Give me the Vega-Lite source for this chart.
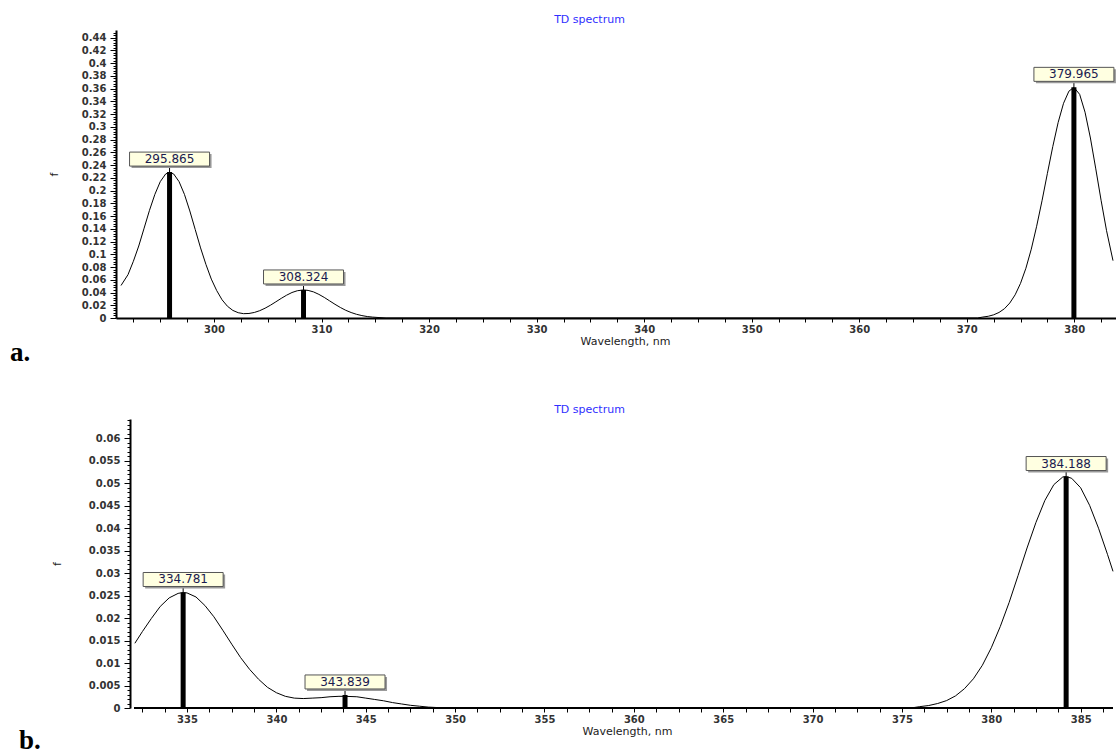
{
  "$schema": "https://vega.github.io/schema/vega-lite/v6.json",
  "padding": {"left": 10, "top": 13, "right": 0, "bottom": 0},
  "background": "white",
  "spacing": 37,
  "columns": 1,
  "config": {
    "view": {"stroke": null},
    "font": "DejaVu Sans",
    "axis": {"domainColor": "black", "domainWidth": 2, "tickColor": "black", "grid": false, "labelFont": "DejaVu Sans", "labelFontSize": 10, "labelFontWeight": "bold", "labelColor": "#333333", "titleFont": "DejaVu Sans", "titleFontSize": 11, "titleFontWeight": "normal", "titleColor": "#222222", "labelOverlap": false, "labelFlush": false, "labelBound": false},
    "title": {"font": "Liberation Serif", "fontSize": 27, "fontWeight": "bold", "color": "black", "orient": "bottom", "anchor": "start", "offset": 0}
  },
  "datasets": {
    "curveA": [
      {"wl": 291.35, "f": 0.051}, {"wl": 292, "f": 0.068}, {"wl": 292.5, "f": 0.089}, {"wl": 293, "f": 0.113}, {"wl": 293.5, "f": 0.141}, {"wl": 294, "f": 0.169}, {"wl": 294.5, "f": 0.194}, {"wl": 295, "f": 0.214}, {"wl": 295.5, "f": 0.226}, {"wl": 295.87, "f": 0.229}, {"wl": 296.25, "f": 0.226}, {"wl": 296.75, "f": 0.214}, {"wl": 297.25, "f": 0.194}, {"wl": 297.75, "f": 0.168}, {"wl": 298.25, "f": 0.139}, {"wl": 298.75, "f": 0.11}, {"wl": 299.25, "f": 0.084}, {"wl": 299.75, "f": 0.061}, {"wl": 300.25, "f": 0.043}, {"wl": 300.75, "f": 0.0285}, {"wl": 301.25, "f": 0.0184}, {"wl": 301.75, "f": 0.0119}, {"wl": 302.25, "f": 0.0083}, {"wl": 302.75, "f": 0.0068}, {"wl": 303.25, "f": 0.0071}, {"wl": 303.75, "f": 0.0087}, {"wl": 304.25, "f": 0.0115}, {"wl": 304.75, "f": 0.0154}, {"wl": 305.25, "f": 0.0201}, {"wl": 305.75, "f": 0.0254}, {"wl": 306.25, "f": 0.0308}, {"wl": 306.75, "f": 0.0358}, {"wl": 307.25, "f": 0.04}, {"wl": 307.75, "f": 0.0428}, {"wl": 308.32, "f": 0.044}, {"wl": 308.75, "f": 0.0433}, {"wl": 309.25, "f": 0.041}, {"wl": 309.75, "f": 0.0371}, {"wl": 310.25, "f": 0.0323}, {"wl": 310.75, "f": 0.0269}, {"wl": 311.25, "f": 0.0215}, {"wl": 311.75, "f": 0.0165}, {"wl": 312.25, "f": 0.0121}, {"wl": 312.75, "f": 0.0086}, {"wl": 313.25, "f": 0.0058}, {"wl": 313.75, "f": 0.0038}, {"wl": 314.25, "f": 0.0023}, {"wl": 314.75, "f": 0.0014}, {"wl": 315.25, "f": 0.0008}, {"wl": 316, "f": 0},
      {"wl": 371, "f": 0}, {"wl": 371.5, "f": 0.0015}, {"wl": 372, "f": 0.0027}, {"wl": 372.5, "f": 0.005}, {"wl": 373, "f": 0.0087}, {"wl": 373.5, "f": 0.0145}, {"wl": 374, "f": 0.0235}, {"wl": 374.5, "f": 0.0364}, {"wl": 375, "f": 0.0544}, {"wl": 375.5, "f": 0.0781}, {"wl": 376, "f": 0.108}, {"wl": 376.5, "f": 0.144}, {"wl": 377, "f": 0.184}, {"wl": 377.5, "f": 0.227}, {"wl": 378, "f": 0.269}, {"wl": 378.5, "f": 0.307}, {"wl": 379, "f": 0.337}, {"wl": 379.5, "f": 0.356}, {"wl": 379.97, "f": 0.362}, {"wl": 380.5, "f": 0.351}, {"wl": 381, "f": 0.323}, {"wl": 381.5, "f": 0.2825}, {"wl": 382, "f": 0.234}, {"wl": 382.5, "f": 0.184}, {"wl": 383, "f": 0.137}, {"wl": 383.6, "f": 0.09}
    ],
    "sticksA": [
      {"wl": 295.865, "f": 0.229, "label": "295.865"},
      {"wl": 308.324, "f": 0.044, "label": "308.324"},
      {"wl": 379.965, "f": 0.362, "label": "379.965"}
    ],
    "curveB": [
      {"wl": 332.08, "f": 0.0144}, {"wl": 332.5, "f": 0.017}, {"wl": 333, "f": 0.0199}, {"wl": 333.5, "f": 0.0226}, {"wl": 334, "f": 0.0245}, {"wl": 334.5, "f": 0.0255}, {"wl": 334.78, "f": 0.0257}, {"wl": 335, "f": 0.0256}, {"wl": 335.5, "f": 0.0247}, {"wl": 336, "f": 0.0228}, {"wl": 336.5, "f": 0.0203}, {"wl": 337, "f": 0.0173}, {"wl": 337.5, "f": 0.0142}, {"wl": 338, "f": 0.0112}, {"wl": 338.5, "f": 0.0086}, {"wl": 339, "f": 0.0064}, {"wl": 339.5, "f": 0.0046}, {"wl": 340, "f": 0.0034}, {"wl": 340.5, "f": 0.0026}, {"wl": 341, "f": 0.0022}, {"wl": 341.5, "f": 0.0021}, {"wl": 342, "f": 0.0022}, {"wl": 342.5, "f": 0.0023}, {"wl": 343, "f": 0.0025}, {"wl": 343.5, "f": 0.0026}, {"wl": 343.84, "f": 0.0026}, {"wl": 344.5, "f": 0.0025}, {"wl": 345, "f": 0.0022}, {"wl": 345.5, "f": 0.0019}, {"wl": 346, "f": 0.0016}, {"wl": 346.5, "f": 0.0012}, {"wl": 347, "f": 0.0009}, {"wl": 347.5, "f": 0.0006}, {"wl": 348, "f": 0.0004}, {"wl": 348.5, "f": 0.0002}, {"wl": 349, "f": 0.0001}, {"wl": 350, "f": 0},
      {"wl": 375.5, "f": 0}, {"wl": 376, "f": 0.0003}, {"wl": 376.5, "f": 0.00055}, {"wl": 377, "f": 0.001}, {"wl": 377.5, "f": 0.00165}, {"wl": 378, "f": 0.0027}, {"wl": 378.5, "f": 0.0043}, {"wl": 379, "f": 0.0065}, {"wl": 379.5, "f": 0.0095}, {"wl": 380, "f": 0.0134}, {"wl": 380.5, "f": 0.0181}, {"wl": 381, "f": 0.0235}, {"wl": 381.5, "f": 0.0295}, {"wl": 382, "f": 0.0356}, {"wl": 382.5, "f": 0.0413}, {"wl": 383, "f": 0.0462}, {"wl": 383.5, "f": 0.0497}, {"wl": 384, "f": 0.0514}, {"wl": 384.19, "f": 0.0515}, {"wl": 384.5, "f": 0.0511}, {"wl": 385, "f": 0.049}, {"wl": 385.5, "f": 0.0451}, {"wl": 386, "f": 0.04}, {"wl": 386.5, "f": 0.0342}, {"wl": 386.81, "f": 0.0304}
    ],
    "sticksB": [
      {"wl": 334.781, "f": 0.0257, "label": "334.781"},
      {"wl": 343.839, "f": 0.0029, "label": "343.839"},
      {"wl": 384.188, "f": 0.0515, "label": "384.188"}
    ]
  },
  "concat": [
    {
      "title": {"text": "a.", "dx": -38, "dy": -10},
      "width": 1002,
      "height": 288,
      "resolve": {"axis": {"x": "independent"}},
      "encoding": {
        "x": {"field": "wl", "type": "quantitative", "scale": {"domain": [291.35, 383.6], "nice": false, "zero": false}, "axis": null},
        "y": {"field": "f", "type": "quantitative", "scale": {"domain": [0, 0.452], "nice": false},
          "axis": {"title": "f", "titlePadding": 12, "minExtent": 45, "maxExtent": 45, "labelPadding": 4,
            "tickSize": {"condition": {"test": "abs(datum.value*50 - round(datum.value*50)) < 0.000001", "value": 6}, "value": 3},
            "values": [0,0.004,0.008,0.012,0.016,0.02,0.024,0.028,0.032,0.036,0.04,0.044,0.048,0.052,0.056,0.06,0.064,0.068,0.072,0.076,0.08,0.084,0.088,0.092,0.096,0.1,0.104,0.108,0.112,0.116,0.12,0.124,0.128,0.132,0.136,0.14,0.144,0.148,0.152,0.156,0.16,0.164,0.168,0.172,0.176,0.18,0.184,0.188,0.192,0.196,0.2,0.204,0.208,0.212,0.216,0.22,0.224,0.228,0.232,0.236,0.24,0.244,0.248,0.252,0.256,0.26,0.264,0.268,0.272,0.276,0.28,0.284,0.288,0.292,0.296,0.3,0.304,0.308,0.312,0.316,0.32,0.324,0.328,0.332,0.336,0.34,0.344,0.348,0.352,0.356,0.36,0.364,0.368,0.372,0.376,0.38,0.384,0.388,0.392,0.396,0.4,0.404,0.408,0.412,0.416,0.42,0.424,0.428,0.432,0.436,0.44,0.444,0.448],
            "labelExpr": "abs(datum.value*50 - round(datum.value*50)) < 0.000001 ? format(datum.value, '~g') : ''"}}
      },
      "layer": [
        {"data": {"name": "sticksA"}, "mark": {"type": "rule", "strokeWidth": 5, "color": "black"},
          "encoding": {"y2": {"datum": 0},
            "x": {"field": "wl", "type": "quantitative", "axis": {"title": "Wavelength, nm", "titlePadding": 1, "tickSize": 4, "labelPadding": 2, "titleX": 509, "titleAlign": "center",
              "values": [292.5,295,297.5,300,302.5,305,307.5,310,312.5,315,317.5,320,322.5,325,327.5,330,332.5,335,337.5,340,342.5,345,347.5,350,352.5,355,357.5,360,362.5,365,367.5,370,372.5,375,377.5,380,382.5],
              "labelExpr": "datum.value % 10 === 0 ? format(datum.value, '~g') : ''"}}}},
        {"data": {"name": "curveA"}, "mark": {"type": "line", "color": "black", "strokeWidth": 1, "clip": true},
          "encoding": {"x": {"field": "wl", "type": "quantitative", "axis": {"orient": "top", "title": "TD spectrum", "domain": false, "ticks": false, "labels": false, "titleColor": "#3030ff", "titleFontSize": 11, "titlePadding": 6, "titleX": 473, "titleAlign": "center"}}}},
        {"data": {"name": "sticksA"}, "mark": {"type": "rule", "strokeWidth": 1, "color": "black", "y2Offset": -6}, "encoding": {"y2": {"field": "f"}}},
        {"data": {"name": "sticksA"}, "mark": {"type": "bar", "width": 80, "fill": "#9a9a9a", "xOffset": 2, "yOffset": -4, "y2Offset": -18}, "encoding": {"y2": {"field": "f"}}},
        {"data": {"name": "sticksA"}, "mark": {"type": "bar", "width": 80, "fill": "#FFFFE1", "stroke": "#555555", "strokeWidth": 1, "yOffset": -6, "y2Offset": -20}, "encoding": {"y2": {"field": "f"}}},
        {"data": {"name": "sticksA"}, "mark": {"type": "text", "fontSize": 12, "color": "#1a1a50", "dy": -13, "baseline": "middle", "align": "center", "font": "DejaVu Sans"}, "encoding": {"text": {"field": "label"}}}
      ]
    },
    {
      "title": {"text": "b.", "dx": -32, "dy": -12},
      "width": 1002,
      "height": 289,
      "resolve": {"axis": {"x": "independent"}},
      "encoding": {
        "x": {"field": "wl", "type": "quantitative", "scale": {"domain": [331.304, 386.81], "nice": false, "zero": false}, "axis": null},
        "y": {"field": "f", "type": "quantitative", "scale": {"domain": [0, 0.0643], "nice": false},
          "axis": {"title": "f", "offset": -14, "titlePadding": 18, "minExtent": 50, "maxExtent": 50, "labelPadding": 4,
            "tickSize": {"condition": {"test": "abs(datum.value*200 - round(datum.value*200)) < 0.000001", "value": 6}, "value": 3},
            "values": [0,0.001,0.002,0.003,0.004,0.005,0.006,0.007,0.008,0.009,0.01,0.011,0.012,0.013,0.014,0.015,0.016,0.017,0.018,0.019,0.02,0.021,0.022,0.023,0.024,0.025,0.026,0.027,0.028,0.029,0.03,0.031,0.032,0.033,0.034,0.035,0.036,0.037,0.038,0.039,0.04,0.041,0.042,0.043,0.044,0.045,0.046,0.047,0.048,0.049,0.05,0.051,0.052,0.053,0.054,0.055,0.056,0.057,0.058,0.059,0.06,0.061,0.062,0.063,0.064],
            "labelExpr": "abs(datum.value*200 - round(datum.value*200)) < 0.000001 ? format(datum.value, '~g') : ''"}}
      },
      "layer": [
        {"data": {"name": "sticksB"}, "mark": {"type": "rule", "strokeWidth": 5, "color": "black"},
          "encoding": {"y2": {"datum": 0},
            "x": {"field": "wl", "type": "quantitative", "axis": {"title": "Wavelength, nm", "domain": false, "titlePadding": 1, "tickSize": 4, "labelPadding": 2, "titleX": 511, "titleAlign": "center",
              "values": [332.5,333.75,335,336.25,337.5,338.75,340,341.25,342.5,343.75,345,346.25,347.5,348.75,350,351.25,352.5,353.75,355,356.25,357.5,358.75,360,361.25,362.5,363.75,365,366.25,367.5,368.75,370,371.25,372.5,373.75,375,376.25,377.5,378.75,380,381.25,382.5,383.75,385,386.25],
              "labelExpr": "datum.value % 5 === 0 ? format(datum.value, '~g') : ''"}}}},
        {"data": {"name": "curveB"}, "mark": {"type": "rule", "strokeWidth": 2, "color": "black"},
          "encoding": {"x": {"datum": 332.08, "type": "quantitative", "axis": null}, "x2": {"datum": 386.81}, "y": {"datum": 0, "type": "quantitative"}}},
        {"data": {"name": "curveB"}, "mark": {"type": "line", "color": "black", "strokeWidth": 1, "clip": true},
          "encoding": {"x": {"field": "wl", "type": "quantitative", "axis": {"orient": "top", "title": "TD spectrum", "domain": false, "ticks": false, "labels": false, "titleColor": "#3030ff", "titleFontSize": 11, "titlePadding": 5, "titleX": 473, "titleAlign": "center"}}}},
        {"data": {"name": "sticksB"}, "mark": {"type": "rule", "strokeWidth": 1, "color": "black", "y2Offset": -6}, "encoding": {"y2": {"field": "f"}}},
        {"data": {"name": "sticksB"}, "mark": {"type": "bar", "width": 80, "fill": "#9a9a9a", "xOffset": 2, "yOffset": -4, "y2Offset": -18}, "encoding": {"y2": {"field": "f"}}},
        {"data": {"name": "sticksB"}, "mark": {"type": "bar", "width": 80, "fill": "#FFFFE1", "stroke": "#555555", "strokeWidth": 1, "yOffset": -6, "y2Offset": -20}, "encoding": {"y2": {"field": "f"}}},
        {"data": {"name": "sticksB"}, "mark": {"type": "text", "fontSize": 12, "color": "#1a1a50", "dy": -13, "baseline": "middle", "align": "center", "font": "DejaVu Sans"}, "encoding": {"text": {"field": "label"}}}
      ]
    }
  ]
}
